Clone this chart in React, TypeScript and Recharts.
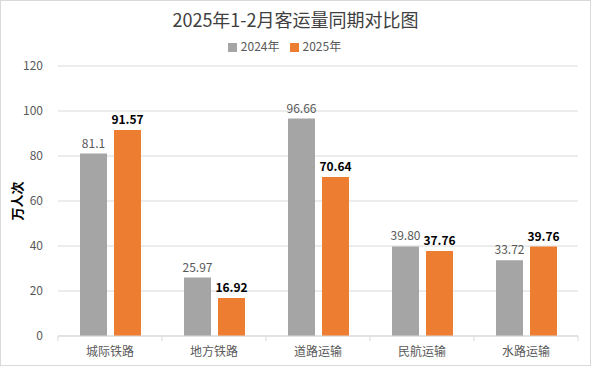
import { BarChart, Bar, XAxis, YAxis, CartesianGrid, Legend, LabelList } from "recharts";

const categories = ["城际铁路", "地方铁路", "道路运输", "民航运输", "水路运输"];
const values2024 = [81.1, 25.97, 96.66, 39.8, 33.72];
const values2025 = [91.57, 16.92, 70.64, 37.76, 39.76];
const labels2024 = ["81.1", "25.97", "96.66", "39.80", "33.72"];
const labels2025 = ["91.57", "16.92", "70.64", "37.76", "39.76"];
const yTicks = [0, 20, 40, 60, 80, 100, 120];

const data = categories.map((c, i) => ({
  name: c,
  y2024: values2024[i],
  y2025: values2025[i],
  l2024: labels2024[i],
  l2025: labels2025[i],
}));

const FONT = "'Noto Sans CJK SC', 'Noto Sans', sans-serif";
const BAND = 520 / 5;

function XTick(props: any) {
  const { x, y, payload, index } = props;
  return (
    <g>
      <line x1={x - BAND / 2} y1={y - 8} x2={x - BAND / 2} y2={y - 3} stroke="#d9d9d9" />
      {index === categories.length - 1 && (
        <line x1={x + BAND / 2} y1={y - 8} x2={x + BAND / 2} y2={y - 3} stroke="#d9d9d9" />
      )}
      <text x={x} y={y + 12} textAnchor="middle" fill="#595959" fontSize={12} fontFamily={FONT}>
        {payload.value}
      </text>
    </g>
  );
}

export default function App() {
  return (
    <div
      style={{
        position: "absolute",
        left: 0,
        top: 0,
        width: 589,
        height: 364,
        border: "1px solid #d9d9d9",
        background: "#fff",
        fontFamily: FONT,
      }}
    >
      <div
        style={{
          position: "absolute",
          top: 5,
          width: "100%",
          textAlign: "center",
          fontSize: 18,
          color: "#404040",
        }}
      >
        2025年1-2月客运量同期对比图
      </div>
      <BarChart
        width={589}
        height={364}
        data={data}
        margin={{ top: 48, right: 12, bottom: 4, left: 0 }}
        barGap={7}
        barSize={27}
      >
        <CartesianGrid vertical={false} stroke="#d9d9d9" />
        <XAxis
          dataKey="name"
          axisLine={{ stroke: "#d9d9d9" }}
          tickLine={false}
          tick={<XTick />}
          height={25}
          interval={0}
        />
        <YAxis
          width={57}
          domain={[0, 120]}
          ticks={yTicks}
          axisLine={false}
          tickLine={false}
          tick={{ fill: "#595959", fontSize: 12, fontFamily: FONT }}
          tickMargin={9}
          label={{
            value: "万人次",
            angle: -90,
            position: "insideLeft",
            offset: 16,
            style: { fill: "#000", fontSize: 13, fontWeight: "bold", fontFamily: FONT, textAnchor: "middle" },
          }}
        />
        <Legend
          verticalAlign="top"
          align="center"
          iconType="square"
          iconSize={9}
          wrapperStyle={{ top: 36, fontSize: 12, fontFamily: FONT }}
          formatter={(v: any) => <span style={{ color: "#595959" }}>{v}</span>}
        />
        <Bar dataKey="y2024" name="2024年" fill="#a5a5a5" isAnimationActive={false}>
          <LabelList dataKey="l2024" position="top" offset={6} fill="#595959" fontSize={12} fontFamily={FONT} />
        </Bar>
        <Bar dataKey="y2025" name="2025年" fill="#ed7d31" isAnimationActive={false}>
          <LabelList
            dataKey="l2025"
            position="top"
            offset={6}
            fill="#000"
            fontSize={12}
            fontWeight="bold"
            fontFamily={FONT}
          />
        </Bar>
      </BarChart>
    </div>
  );
}
